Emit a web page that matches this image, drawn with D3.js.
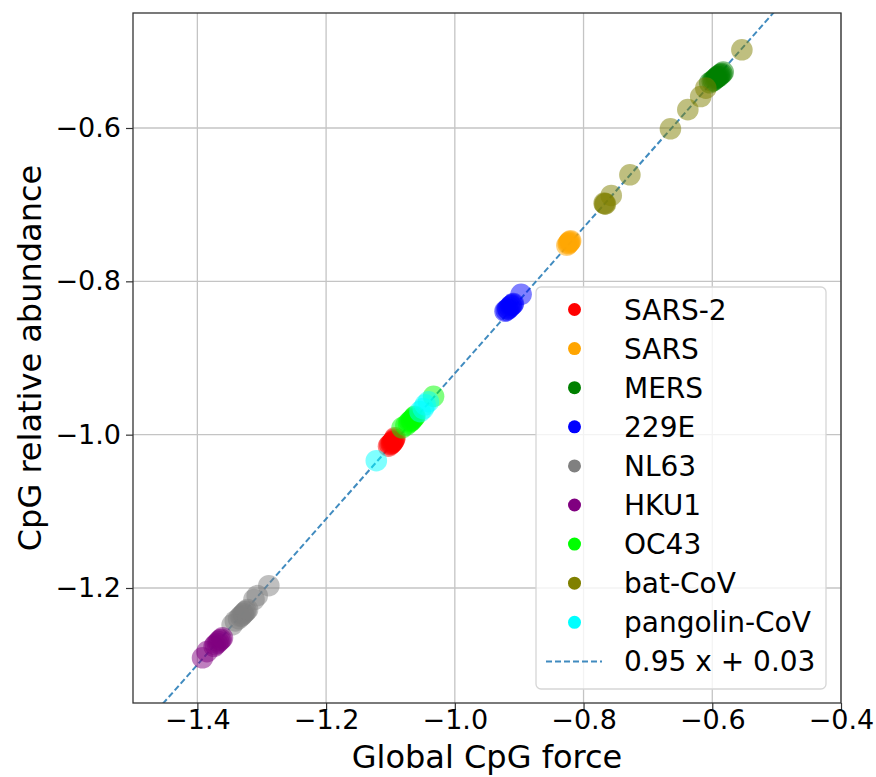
<!DOCTYPE html>
<html>
<head>
<meta charset="utf-8">
<script src="https://cdn.jsdelivr.net/npm/d3@7"></script>
<style>
  body { margin: 0; background: #fff; }
  svg text { font-family: "DejaVu Sans", sans-serif; fill: #000; }
</style>
</head>
<body>
<svg id="viewer" width="876" height="777"></svg>
<script>
// legend order = draw order
let groupNames = ["SARS-2", "SARS", "MERS", "229E", "NL63", "HKU1", "OC43", "bat-CoV", "pangolin-CoV"];
let groupColors = ["red", "orange", "green", "blue", "gray", "purple", "lime", "olive", "cyan"];

// values (global CpG force, CpG relative abundance)
let sars2X = [-1.103, -1.101, -1.099, -1.098, -1.097, -1.096, -1.095, -1.094, -1.093];
let sars2Y = [-1.015, -1.013, -1.012, -1.011, -1.010, -1.009, -1.008, -1.006, -1.004];
let sarsX = [-0.826, -0.824, -0.823, -0.822, -0.821, -0.820];
let sarsY = [-0.753, -0.751, -0.750, -0.749, -0.748, -0.747];
let mersX = [-0.604, -0.600, -0.598, -0.596, -0.594, -0.593, -0.592, -0.590, -0.589, -0.587, -0.585, -0.583];
let mersY = [-0.541, -0.539, -0.538, -0.536, -0.535, -0.534, -0.533, -0.533, -0.531, -0.530, -0.529, -0.527];
let e229X = [-0.922, -0.920, -0.918, -0.917, -0.915, -0.913, -0.912, -0.910, -0.909, -0.897];
let e229Y = [-0.839, -0.838, -0.836, -0.836, -0.834, -0.832, -0.831, -0.830, -0.829, -0.817];
let nl63X = [-1.346, -1.341, -1.336, -1.333, -1.331, -1.329, -1.328, -1.326, -1.324, -1.322, -1.312, -1.307, -1.289];
let nl63Y = [-1.248, -1.243, -1.240, -1.237, -1.236, -1.234, -1.233, -1.231, -1.230, -1.228, -1.215, -1.210, -1.197];
let hku1X = [-1.392, -1.385, -1.374, -1.372, -1.369, -1.367, -1.365, -1.363, -1.361];
let hku1Y = [-1.291, -1.283, -1.276, -1.274, -1.272, -1.270, -1.268, -1.267, -1.265];
let oc43X = [-1.082, -1.076, -1.072, -1.070, -1.068, -1.067, -1.065, -1.063, -1.062, -1.033];
let oc43Y = [-0.991, -0.988, -0.985, -0.983, -0.982, -0.981, -0.979, -0.977, -0.976, -0.950];
let batX = [-0.768, -0.767, -0.766, -0.757, -0.728, -0.665, -0.638, -0.618, -0.610, -0.554];
let batY = [-0.698, -0.699, -0.699, -0.688, -0.661, -0.601, -0.576, -0.559, -0.548, -0.498];
let pangolinX = [-1.122, -1.054, -1.049, -1.046, -1.041];
let pangolinY = [-1.034, -0.970, -0.966, -0.961, -0.957];

let fitSlope = 0.95;
let fitIntercept = 0.03;
let fitLabel = "0.95 x + 0.03";

let xTicks = [-1.4, -1.2, -1.0, -0.8, -0.6, -0.4];
let yTicks = [-1.2, -1.0, -0.8, -0.6];

let groupX = [sars2X, sarsX, mersX, e229X, nl63X, hku1X, oc43X, batX, pangolinX];
let groupY = [sars2Y, sarsY, mersY, e229Y, nl63Y, hku1Y, oc43Y, batY, pangolinY];

let margin = {top: 13, right: 35, bottom: 74, left: 133},
    width = 876 - margin.left - margin.right,
    height = 777 - margin.top - margin.bottom;

let x = d3.scaleLinear().domain([-1.5, -0.4]).range([0, width]);
let y = d3.scaleLinear().domain([-1.35, -0.45]).range([height, 0]);

let svg = d3.select('#viewer');
let viewer = svg.append('g')
  .attr('transform', 'translate(' + margin.left + ',' + margin.top + ')');

viewer.append('clipPath').attr('id', 'plotClip')
  .append('rect').attr('width', width).attr('height', height);

// grid
viewer.append('g').selectAll('line').data(xTicks).join('line')
  .attr('x1', d => x(d)).attr('x2', d => x(d))
  .attr('y1', 0).attr('y2', height)
  .attr('stroke', '#c4c4c4').attr('stroke-width', 1.3);
viewer.append('g').selectAll('line').data(yTicks).join('line')
  .attr('x1', 0).attr('x2', width)
  .attr('y1', d => y(d)).attr('y2', d => y(d))
  .attr('stroke', '#c4c4c4').attr('stroke-width', 1.3);

// fit line
let plot = viewer.append('g').attr('clip-path', 'url(#plotClip)');
let fitXs = x.domain();
plot.append('line')
  .attr('x1', x(fitXs[0])).attr('y1', y(fitSlope * fitXs[0] + fitIntercept))
  .attr('x2', x(fitXs[1])).attr('y2', y(fitSlope * fitXs[1] + fitIntercept))
  .attr('stroke', '#1f77b4').attr('stroke-opacity', 0.85)
  .attr('stroke-width', 2).attr('stroke-dasharray', '6,3');

// points
groupNames.forEach(function (name, i) {
  let pts = groupX[i].map((v, j) => [v, groupY[i][j]]);
  plot.append('g').selectAll('circle').data(pts).join('circle')
    .attr('cx', d => x(d[0]))
    .attr('cy', d => y(d[1]))
    .attr('r', 10.8)
    .attr('fill', groupColors[i])
    .attr('fill-opacity', 0.5);
});

// axes
let xAxis = d3.axisBottom(x).tickValues(xTicks).tickSize(7).tickPadding(0)
  .tickFormat(d3.format('.1f'));
let yAxis = d3.axisLeft(y).tickValues(yTicks).tickSize(7).tickPadding(5)
  .tickFormat(d3.format('.1f'));

let gx = viewer.append('g').attr('transform', 'translate(0,' + height + ')').call(xAxis);
let gy = viewer.append('g').call(yAxis);
[gx, gy].forEach(function (g) {
  g.select('.domain').remove();
  g.selectAll('line').attr('stroke', '#333').attr('stroke-width', 1.2);
  g.selectAll('text').attr('font-size', 27).attr('fill', '#000')
    .style('font-family', '"DejaVu Sans", sans-serif');
});

// frame
viewer.append('rect')
  .attr('width', width).attr('height', height)
  .attr('fill', 'none').attr('stroke', '#333').attr('stroke-width', 1.3);

// axis labels
svg.append('text')
  .attr('x', margin.left + width / 2).attr('y', 768)
  .attr('text-anchor', 'middle').attr('font-size', 32)
  .text('Global CpG force');
svg.append('text')
  .attr('transform', 'translate(41,' + (margin.top + height / 2) + ') rotate(-90)')
  .attr('text-anchor', 'middle').attr('font-size', 32)
  .text('CpG relative abundance');

// legend
let legend = svg.append('g').attr('transform', 'translate(536,287)');
legend.append('rect')
  .attr('width', 290).attr('height', 402).attr('rx', 5)
  .attr('fill', '#fff').attr('fill-opacity', 0.8)
  .attr('stroke', '#d6d6d6').attr('stroke-width', 1.3);
let rowStep = 39.1;
groupNames.forEach(function (name, i) {
  let cy = 22.5 + i * rowStep;
  legend.append('circle').attr('cx', 38.5).attr('cy', cy).attr('r', 6.5)
    .attr('fill', groupColors[i]);
  legend.append('text').attr('x', 88).attr('y', cy).attr('dy', '0.36em')
    .attr('font-size', 28).text(name);
});
let fitRow = 22.5 + groupNames.length * rowStep;
legend.append('line')
  .attr('x1', 10).attr('x2', 66).attr('y1', fitRow).attr('y2', fitRow)
  .attr('stroke', '#1f77b4').attr('stroke-opacity', 0.85)
  .attr('stroke-width', 2).attr('stroke-dasharray', '6,3');
legend.append('text').attr('x', 88).attr('y', fitRow).attr('dy', '0.36em')
  .attr('font-size', 28).text(fitLabel);
</script>
</body>
</html>
